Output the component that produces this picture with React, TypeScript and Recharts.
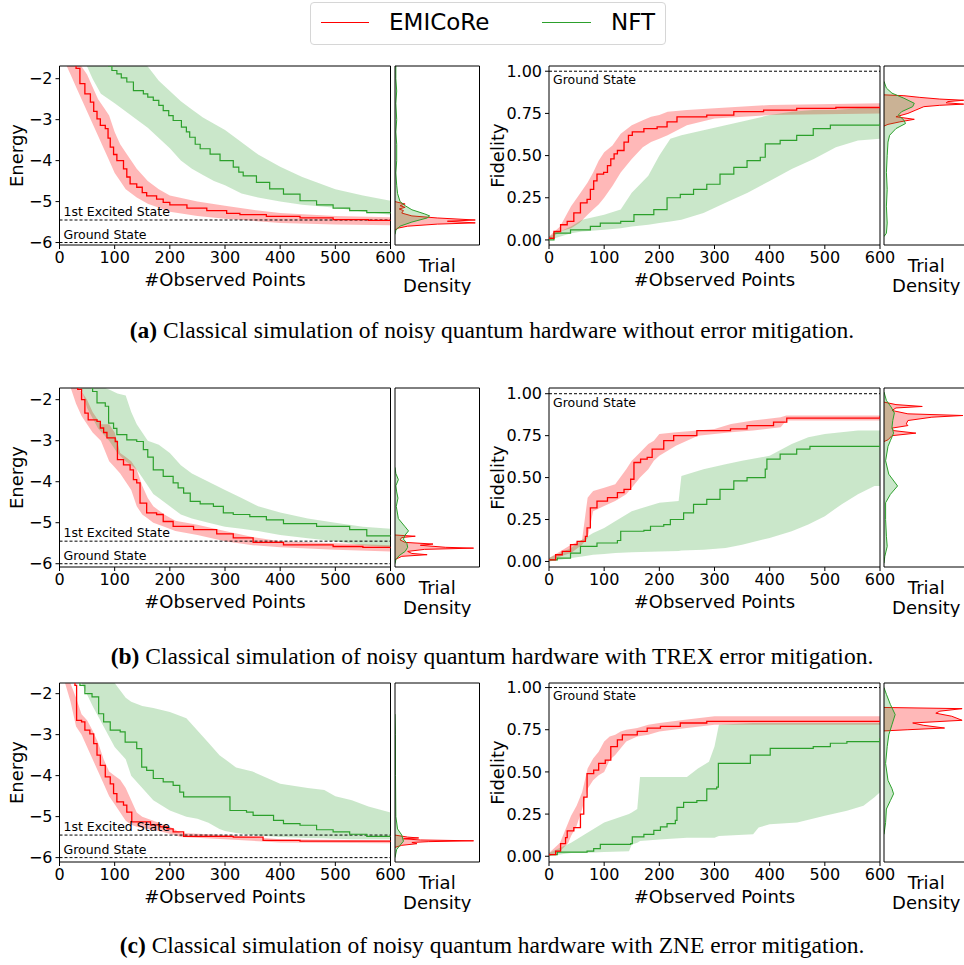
import React from 'react'
import { ComposedChart, Area, Line, XAxis, YAxis, ReferenceLine, ReferenceArea } from 'recharts'

// ---------- values ----------
const xTicks = [0, 100, 200, 300, 400, 500, 600]
const energyTicks = [-6, -5, -4, -3, -2]
const fidelityTicks = [0, 0.25, 0.5, 0.75, 1]
const excitedEnergy = -5.45
const groundEnergy = -6.0
const groundFidelity = 1.0

const captions = [
  ['(a)', ' Classical simulation of noisy quantum hardware without error mitigation.'],
  ['(b)', ' Classical simulation of noisy quantum hardware with TREX error mitigation.'],
  ['(c)', ' Classical simulation of noisy quantum hardware with ZNE error mitigation.'],
]

// (a) no mitigation — energy: [x, y] lines, [x, lo, hi] bands
const aEnergyRed = [[0,-1.0],[30,-1.75],[37,-2.12],[46,-2.37],[56,-2.57],[62,-2.8],[68,-2.98],[74,-3.14],[83,-3.22],[88,-3.45],[92,-3.67],[98,-3.85],[104,-4.0],[116,-4.2],[122,-4.4],[128,-4.57],[140,-4.65],[150,-4.78],[158,-4.86],[176,-4.94],[188,-5.02],[200,-5.08],[231,-5.16],[267,-5.22],[303,-5.29],[327,-5.32],[375,-5.36],[436,-5.40],[496,-5.44],[560,-5.46],[600,-5.47]]
const aEnergyRedBand = [[0,-1.3,-1.0],[20,-1.9,-1.5],[30,-2.2,-1.6],[40,-2.5,-1.7],[50,-2.8,-1.9],[60,-3.1,-2.2],[70,-3.4,-2.5],[80,-3.7,-2.7],[90,-4.0,-2.9],[100,-4.3,-3.3],[110,-4.5,-3.6],[120,-4.7,-3.8],[140,-4.9,-4.2],[160,-5.05,-4.5],[180,-5.15,-4.7],[200,-5.25,-4.85],[250,-5.35,-5.0],[300,-5.42,-5.1],[350,-5.47,-5.2],[400,-5.52,-5.28],[500,-5.56,-5.35],[600,-5.58,-5.38]]
const aEnergyGreen = [[0,-1.0],[89,-1.69],[95,-1.8],[104,-1.88],[112,-1.98],[122,-2.08],[134,-2.29],[152,-2.37],[160,-2.45],[170,-2.53],[180,-2.65],[188,-2.78],[198,-2.9],[206,-3.02],[221,-3.18],[230,-3.3],[236,-3.43],[246,-3.6],[255,-3.71],[273,-3.84],[291,-4.0],[315,-4.16],[325,-4.28],[333,-4.37],[357,-4.53],[381,-4.69],[406,-4.82],[436,-4.98],[466,-5.08],[496,-5.16],[526,-5.22],[557,-5.27],[600,-5.29]]
const aEnergyGreenBand = [[0,-1.0,-0.5],[50,-1.7,-1.0],[60,-2.0,-1.2],[75,-2.37,-1.3],[100,-2.6,-1.4],[130,-2.9,-1.5],[160,-3.2,-1.7],[180,-3.45,-2.05],[200,-3.7,-2.3],[220,-4.0,-2.55],[240,-4.2,-2.75],[260,-4.35,-2.95],[280,-4.5,-3.1],[300,-4.6,-3.25],[330,-4.8,-3.55],[360,-4.9,-3.85],[400,-5.0,-4.15],[440,-5.08,-4.4],[500,-5.15,-4.7],[550,-5.25,-4.85],[600,-5.32,-4.98]]

// (a) fidelity
const aFidRed = [[0,0.01],[9,0.05],[21,0.09],[33,0.11],[45,0.16],[57,0.22],[69,0.24],[75,0.30],[81,0.35],[87,0.39],[99,0.40],[106,0.44],[112,0.48],[118,0.51],[124,0.53],[136,0.58],[144,0.62],[151,0.64],[172,0.66],[196,0.67],[214,0.70],[232,0.73],[286,0.74],[335,0.76],[389,0.77],[449,0.78],[520,0.785],[600,0.785]]
const aFidRedBand = [[0,0.0,0.02],[20,0.05,0.08],[40,0.07,0.2],[55,0.1,0.27],[70,0.15,0.34],[80,0.18,0.4],[90,0.21,0.47],[100,0.25,0.52],[115,0.32,0.56],[130,0.4,0.63],[150,0.48,0.68],[170,0.55,0.71],[185,0.58,0.73],[200,0.6,0.74],[215,0.62,0.76],[250,0.68,0.77],[300,0.72,0.78],[400,0.74,0.80],[600,0.75,0.81]]
const aFidGreen = [[0,0.0],[9,0.04],[39,0.06],[75,0.08],[93,0.10],[130,0.11],[154,0.15],[190,0.18],[214,0.25],[238,0.27],[262,0.30],[286,0.33],[310,0.39],[335,0.43],[359,0.47],[383,0.49],[392,0.57],[419,0.59],[449,0.62],[479,0.66],[510,0.68],[600,0.69]]
const aFidGreenBand = [[0,0.0,0.02],[40,0.04,0.08],[60,0.05,0.12],[100,0.06,0.15],[130,0.07,0.18],[150,0.08,0.28],[180,0.09,0.38],[200,0.10,0.50],[220,0.11,0.60],[240,0.12,0.62],[280,0.16,0.65],[320,0.22,0.68],[360,0.28,0.71],[400,0.35,0.74],[440,0.42,0.76],[480,0.48,0.77],[520,0.55,0.77],[560,0.59,0.78],[600,0.60,0.78]]

// (a) trial densities: [value, density]
const aEnergyDensRed = [[-5.0,0],[-5.03,0.06],[-5.06,0.12],[-5.1,0.06],[-5.14,0.12],[-5.18,0.05],[-5.22,0.1],[-5.28,0.08],[-5.35,0.2],[-5.4,0.5],[-5.45,0.95],[-5.48,0.62],[-5.52,0.95],[-5.55,0.5],[-5.6,0.15],[-5.65,0.03],[-5.7,0]]
const aEnergyDensGreen = [[-1.69,0.01],[-2.0,0.01],[-2.3,0.02],[-2.6,0.01],[-3.0,0.02],[-3.3,0.01],[-3.6,0.02],[-4.0,0.02],[-4.3,0.01],[-4.6,0.02],[-4.8,0.03],[-5.0,0.06],[-5.1,0.12],[-5.2,0.2],[-5.3,0.35],[-5.35,0.41],[-5.4,0.38],[-5.5,0.2],[-5.6,0.06],[-5.7,0.01],[-5.8,0]]
const aFidDensRed = [[0.86,0],[0.855,0.25],[0.845,0.45],[0.835,0.7],[0.828,1.0],[0.82,0.8],[0.813,0.78],[0.805,1.0],[0.798,0.7],[0.79,0.5],[0.77,0.4],[0.75,0.3],[0.73,0.15],[0.715,0.38],[0.70,0.2],[0.685,0.05],[0.675,0]]
const aFidDensGreen = [[0.94,0],[0.9,0.03],[0.87,0.1],[0.84,0.25],[0.81,0.38],[0.79,0.36],[0.76,0.22],[0.74,0.18],[0.71,0.25],[0.69,0.27],[0.66,0.15],[0.62,0.07],[0.58,0.05],[0.5,0.04],[0.4,0.03],[0.3,0.04],[0.2,0.03],[0.1,0.04],[0.04,0.03],[0.02,0]]

// (b) TREX — energy
const bEnergyRed = [[0,-1.0],[33,-1.75],[40,-2.0],[46,-2.33],[52,-2.49],[68,-2.53],[74,-2.69],[80,-2.8],[86,-2.93],[101,-3.02],[105,-3.46],[116,-3.59],[128,-3.71],[134,-3.95],[140,-4.03],[146,-4.52],[158,-4.76],[176,-4.80],[188,-4.97],[206,-5.09],[243,-5.17],[285,-5.27],[315,-5.37],[351,-5.48],[406,-5.54],[496,-5.58],[550,-5.6],[600,-5.62]]
const bEnergyRedBand = [[0,-1.3,-1.0],[20,-1.7,-1.6],[30,-2.1,-1.7],[40,-2.4,-1.8],[50,-2.6,-2.0],[60,-2.8,-2.3],[75,-3.0,-2.6],[90,-3.5,-2.6],[100,-3.65,-2.8],[110,-3.8,-3.3],[120,-4.0,-3.4],[130,-4.2,-3.5],[140,-4.6,-3.7],[150,-4.8,-4.1],[160,-4.9,-4.4],[170,-5.0,-4.6],[190,-5.1,-4.8],[210,-5.2,-4.95],[250,-5.3,-5.05],[300,-5.45,-5.2],[350,-5.55,-5.35],[400,-5.6,-5.45],[500,-5.66,-5.5],[600,-5.7,-5.55]]
const bEnergyGreen = [[0,-1.0],[60,-1.8],[68,-2.08],[83,-2.16],[89,-2.57],[98,-2.7],[104,-2.85],[122,-2.98],[140,-3.02],[152,-3.22],[160,-3.4],[170,-3.71],[188,-3.87],[206,-4.03],[215,-4.15],[225,-4.28],[237,-4.48],[255,-4.54],[279,-4.60],[297,-4.76],[315,-4.80],[345,-4.85],[375,-4.93],[406,-5.02],[466,-5.09],[526,-5.17],[557,-5.32],[600,-5.33]]
const bEnergyGreenBand = [[0,-1.3,-1.0],[40,-1.75,-1.2],[50,-2.2,-1.3],[60,-2.45,-1.4],[70,-2.7,-1.5],[80,-2.85,-1.7],[90,-3.0,-1.75],[105,-3.3,-1.85],[120,-3.5,-1.9],[130,-3.6,-2.3],[140,-3.7,-2.6],[150,-3.9,-2.8],[160,-4.1,-3.0],[170,-4.3,-3.05],[180,-4.4,-3.1],[200,-4.6,-3.3],[220,-4.8,-3.6],[240,-4.9,-3.8],[270,-5.0,-4.0],[300,-5.1,-4.2],[330,-5.15,-4.4],[360,-5.2,-4.6],[400,-5.3,-4.75],[450,-5.38,-4.9],[500,-5.45,-5.0],[550,-5.55,-5.1],[600,-5.6,-5.15]]

// (b) fidelity
const bFidRed = [[0,0.01],[12,0.04],[24,0.06],[39,0.10],[51,0.12],[66,0.15],[69,0.20],[75,0.32],[87,0.36],[106,0.38],[124,0.41],[136,0.43],[148,0.49],[154,0.59],[166,0.61],[178,0.62],[187,0.67],[208,0.72],[226,0.75],[268,0.78],[329,0.79],[359,0.81],[407,0.83],[431,0.855],[600,0.865]]
const bFidRedBand = [[0,0.0,0.02],[20,0.03,0.06],[40,0.05,0.1],[60,0.1,0.13],[70,0.14,0.38],[75,0.22,0.40],[80,0.30,0.42],[100,0.33,0.44],[120,0.36,0.46],[140,0.40,0.55],[150,0.44,0.60],[165,0.50,0.65],[180,0.55,0.70],[190,0.60,0.72],[200,0.63,0.76],[230,0.69,0.77],[270,0.75,0.78],[300,0.76,0.79],[330,0.77,0.82],[370,0.78,0.84],[420,0.80,0.86],[430,0.84,0.87],[600,0.84,0.87]]
const bFidGreen = [[0,0.01],[15,0.02],[39,0.05],[57,0.09],[87,0.11],[124,0.125],[130,0.18],[172,0.185],[184,0.21],[208,0.22],[220,0.25],[244,0.29],[262,0.34],[286,0.37],[310,0.43],[335,0.48],[359,0.50],[392,0.55],[395,0.61],[419,0.64],[449,0.67],[473,0.686],[600,0.686]]
const bFidGreenBand = [[0,0.0,0.02],[40,0.02,0.08],[60,0.03,0.13],[80,0.04,0.17],[100,0.045,0.2],[120,0.05,0.24],[150,0.055,0.3],[200,0.06,0.35],[235,0.063,0.36],[240,0.065,0.51],[280,0.07,0.55],[320,0.08,0.58],[350,0.10,0.60],[400,0.14,0.63],[440,0.18,0.70],[470,0.22,0.74],[500,0.27,0.76],[530,0.34,0.77],[560,0.40,0.78],[590,0.45,0.78],[600,0.45,0.78]]

// (b) trial densities
const bEnergyDensRed = [[-5.3,0],[-5.33,0.24],[-5.36,0.08],[-5.42,0.06],[-5.48,0.12],[-5.52,0.45],[-5.55,0.3],[-5.6,0.6],[-5.62,0.93],[-5.65,0.35],[-5.7,0.15],[-5.75,0.2],[-5.78,0.38],[-5.82,0.08],[-5.9,0]]
const bEnergyDensGreen = [[-3.65,0],[-3.8,0.01],[-3.95,0.04],[-4.1,0.01],[-4.25,0.02],[-4.4,0.035],[-4.6,0.015],[-4.9,0.04],[-5.1,0.12],[-5.2,0.16],[-5.3,0.12],[-5.4,0.1],[-5.5,0.14],[-5.6,0.15],[-5.7,0.12],[-5.8,0.05],[-5.9,0.01],[-6.0,0]]
const bFidDensRed = [[0.95,0],[0.935,0.15],[0.924,0.48],[0.915,0.15],[0.9,0.1],[0.88,0.3],[0.87,0.99],[0.86,0.6],[0.84,0.3],[0.82,0.28],[0.81,0.3],[0.795,0.1],[0.78,0.12],[0.765,0.4],[0.75,0.1],[0.725,0.05],[0.715,0]]
const bFidDensGreen = [[1.01,0],[0.96,0.03],[0.92,0.09],[0.885,0.13],[0.84,0.11],[0.8,0.1],[0.765,0.12],[0.72,0.08],[0.686,0.05],[0.6,0.02],[0.52,0.06],[0.45,0.17],[0.4,0.08],[0.35,0.02],[0.25,0.02],[0.15,0.03],[0.09,0.04],[0.03,0.01],[-0.01,0]]

// (c) ZNE — energy
const cEnergyRed = [[0,-1.0],[28,-1.8],[31,-2.65],[40,-2.69],[46,-2.89],[55,-2.98],[62,-3.22],[68,-3.50],[74,-3.75],[83,-4.03],[92,-4.20],[98,-4.44],[104,-4.64],[116,-4.72],[122,-4.89],[131,-5.13],[152,-5.13],[165,-5.2],[182,-5.25],[195,-5.3],[206,-5.37],[225,-5.48],[315,-5.50],[369,-5.58],[436,-5.60],[600,-5.62]]
const cEnergyRedBand = [[0,-1.3,-1.0],[10,-1.74,-1.6],[20,-2.2,-1.75],[30,-2.8,-2.1],[40,-3.0,-2.5],[50,-3.3,-2.65],[60,-3.6,-2.9],[70,-3.9,-3.2],[80,-4.2,-3.6],[90,-4.5,-3.9],[100,-4.7,-4.0],[110,-4.9,-4.1],[120,-5.1,-4.3],[130,-5.2,-4.6],[140,-5.25,-4.9],[150,-5.28,-5.0],[180,-5.35,-5.15],[200,-5.42,-5.25],[220,-5.5,-5.4],[300,-5.55,-5.45],[400,-5.63,-5.55],[600,-5.65,-5.58]]
const cEnergyGreen = [[0,-1.0],[37,-1.8],[46,-2.0],[59,-2.08],[71,-2.49],[80,-2.69],[92,-2.89],[110,-2.93],[119,-3.18],[140,-3.34],[149,-3.79],[158,-3.87],[170,-4.07],[188,-4.15],[206,-4.24],[218,-4.4],[225,-4.52],[303,-4.52],[309,-4.85],[339,-4.89],[351,-4.97],[388,-5.09],[406,-5.17],[436,-5.21],[466,-5.32],[496,-5.37],[526,-5.43],[557,-5.48],[600,-5.50]]
const cEnergyGreenBand = [[0,-1.3,-1.0],[40,-1.74,-1.2],[60,-2.3,-1.3],[80,-2.8,-1.5],[100,-3.3,-1.74],[120,-3.6,-2.1],[130,-4.0,-2.2],[150,-4.3,-2.3],[170,-4.6,-2.35],[200,-4.85,-2.45],[230,-5.0,-2.6],[250,-5.05,-2.9],[270,-5.15,-3.2],[290,-5.3,-3.5],[300,-5.35,-3.6],[320,-5.4,-3.8],[350,-5.45,-3.9],[400,-5.5,-4.2],[450,-5.52,-4.3],[480,-5.53,-4.35],[500,-5.54,-4.5],[530,-5.55,-4.6],[560,-5.55,-4.75],[600,-5.55,-4.9]]

// (c) fidelity
const cFidRed = [[0,0.01],[12,0.03],[21,0.075],[30,0.11],[33,0.15],[45,0.17],[57,0.25],[63,0.35],[69,0.49],[81,0.51],[90,0.55],[102,0.57],[112,0.65],[124,0.69],[133,0.72],[160,0.74],[178,0.76],[202,0.77],[238,0.79],[286,0.80],[600,0.80]]
const cFidRedBand = [[0,0.0,0.02],[20,0.03,0.08],[35,0.08,0.2],[40,0.12,0.24],[50,0.18,0.3],[60,0.28,0.38],[70,0.4,0.52],[80,0.45,0.58],[90,0.48,0.62],[100,0.5,0.68],[110,0.57,0.71],[120,0.6,0.72],[130,0.64,0.74],[140,0.68,0.75],[160,0.71,0.76],[180,0.72,0.78],[200,0.74,0.79],[250,0.76,0.81],[300,0.78,0.83],[600,0.78,0.83]]
const cFidGreen = [[0,0.01],[15,0.025],[69,0.03],[81,0.045],[93,0.07],[148,0.075],[151,0.115],[172,0.13],[190,0.154],[202,0.174],[214,0.194],[229,0.213],[232,0.29],[244,0.32],[268,0.33],[286,0.40],[304,0.41],[307,0.55],[359,0.55],[365,0.60],[401,0.64],[479,0.65],[510,0.67],[540,0.68],[600,0.70]]
const cFidGreenBand = [[0,0.0,0.02],[20,0.01,0.05],[40,0.02,0.08],[60,0.02,0.12],[100,0.025,0.2],[145,0.03,0.25],[150,0.07,0.26],[160,0.08,0.28],[165,0.09,0.47],[200,0.1,0.47],[250,0.11,0.47],[270,0.11,0.52],[290,0.11,0.56],[300,0.11,0.65],[308,0.12,0.78],[370,0.13,0.79],[380,0.17,0.79],[400,0.19,0.79],[450,0.2,0.79],[500,0.24,0.79],[540,0.27,0.79],[570,0.3,0.79],[590,0.35,0.79],[600,0.38,0.79]]

// (c) trial densities
const cEnergyDensRed = [[-5.45,0],[-5.5,0.15],[-5.52,0.28],[-5.54,0.1],[-5.57,0.3],[-5.59,0.93],[-5.61,0.4],[-5.63,0.2],[-5.66,0.26],[-5.7,0.08],[-5.75,0]]
const cEnergyDensGreen = [[-2.5,0],[-3.0,0.005],[-4.0,0.006],[-5.0,0.01],[-5.3,0.03],[-5.45,0.08],[-5.6,0.1],[-5.7,0.06],[-5.8,0.02],[-6.0,0]]
const cFidDensRed = [[0.882,0],[0.875,0.98],[0.86,0.7],[0.848,0.65],[0.83,0.85],[0.806,0.98],[0.79,0.36],[0.776,0.5],[0.76,0.76],[0.75,0.3],[0.743,0]]
const cFidDensGreen = [[1.0,0],[0.96,0.03],[0.9,0.08],[0.84,0.14],[0.78,0.1],[0.72,0.06],[0.65,0.04],[0.55,0.02],[0.45,0.05],[0.4,0.1],[0.37,0.12],[0.33,0.08],[0.28,0.03],[0.2,0.02],[0.13,0]]

// ---------- look ----------
const RED = '#ff0000'
const GREEN = '#2ca02c'
const FONT = '"DejaVu Sans", sans-serif'
const PW = 331
const PH = 179
const DW = 84.5

const minus = (v: number) => (v < 0 ? '\u2212' + Math.abs(v) : String(v))

const lineRows = (rows: number[][]) => rows.map(([x, y]) => ({ x, y }))
const bandRows = (rows: number[][]) => rows.map(([x, lo, hi]) => ({ x, r: [lo, hi] }))
const densRows = (rows: number[][]) => rows.map(([y, d]) => ({ y, d }))

const yLabel = (text: string, cx: number) => (p: any) => {
  const vb = p.viewBox
  const cy = vb.y + vb.height / 2
  return (
    <text x={cx} y={cy} transform={`rotate(-90 ${cx} ${cy})`} textAnchor="middle" dominantBaseline="central" fontSize={18} fill="#000">
      {text}
    </text>
  )
}

const xLabel = (p: any) => {
  const vb = p.viewBox
  return (
    <text x={vb.x + vb.width / 2} y={vb.y + 41} textAnchor="middle" fontSize={18} fill="#000">
      #Observed Points
    </text>
  )
}

const trialLabel = (p: any) => {
  const vb = p.viewBox
  const cx = vb.x + vb.width / 2
  return (
    <text x={cx} y={vb.y} textAnchor="middle" fontSize={18} fill="#000">
      <tspan x={cx} dy={27}>Trial</tspan>
      <tspan x={cx} dy={19.5}>Density</tspan>
    </text>
  )
}

const Panel = ({ left, top, yW, labelX, domain, ticks, fmt, ylabel, refs, red, redBand, green, greenBand }: any) => (
  <div style={{ position: 'absolute', left: left - yW, top: top - 10 }}>
    <ComposedChart width={yW + PW + 18} height={10 + PH + 48} margin={{ top: 10, right: 18, left: 0, bottom: 0 }}>
      <XAxis type="number" dataKey="x" domain={[0, 600]} ticks={xTicks} allowDataOverflow height={48}
        axisLine={false} tickSize={4} tickMargin={3} tickLine={{ stroke: '#000' }}
        tick={{ fill: '#000', fontSize: 16 }} label={xLabel} />
      <YAxis type="number" domain={domain} ticks={ticks} allowDataOverflow width={yW} tickFormatter={fmt}
        axisLine={false} tickSize={4} tickMargin={3} tickLine={{ stroke: '#000' }}
        tick={{ fill: '#000', fontSize: 16 }} label={yLabel(ylabel, labelX)} />
      <Area data={bandRows(redBand)} dataKey="r" type="linear" stroke="none" fill={RED} fillOpacity={0.28} isAnimationActive={false} />
      <Area data={bandRows(greenBand)} dataKey="r" type="linear" stroke="none" fill={GREEN} fillOpacity={0.25} isAnimationActive={false} />
      {refs.map(([y, text, pos]: any) => (
        <ReferenceLine key={text + y} y={y} stroke="#000" strokeWidth={1} strokeDasharray="3 2"
          label={{ value: text, position: pos, offset: 4, fontSize: 12.5, fill: '#000' }} />
      ))}
      <Line data={lineRows(green)} dataKey="y" type="stepAfter" stroke={GREEN} strokeWidth={1.2} dot={false} isAnimationActive={false} />
      <Line data={lineRows(red)} dataKey="y" type="stepAfter" stroke={RED} strokeWidth={1.3} dot={false} isAnimationActive={false} />
      <ReferenceArea x1={0} x2={600} y1={domain[0]} y2={domain[1]} fill="none" stroke="#000" strokeWidth={1} />
    </ComposedChart>
  </div>
)

const Density = ({ left, top, domain, xMax, red, green }: any) => (
  <div style={{ position: 'absolute', left: left - 1, top: top - 1 }}>
    <ComposedChart layout="vertical" width={DW + 2} height={PH + 1 + 50} margin={{ top: 1, right: 1, left: 1, bottom: 0 }}>
      <XAxis type="number" domain={[0, xMax]} allowDataOverflow height={50} tick={false} axisLine={false} tickLine={false} label={trialLabel} />
      <YAxis type="number" dataKey="y" domain={domain} allowDataOverflow reversed hide />
      <Area data={densRows(red)} dataKey="d" type="linear" stroke={RED} strokeWidth={1} fill={RED} fillOpacity={0.28} isAnimationActive={false} />
      <Area data={densRows(green)} dataKey="d" type="linear" stroke={GREEN} strokeWidth={1} fill={GREEN} fillOpacity={0.25} isAnimationActive={false} />
      <ReferenceArea x1={0} x2={xMax} y1={domain[0]} y2={domain[1]} fill="none" stroke="#000" strokeWidth={1} />
    </ComposedChart>
  </div>
)

const rows = [
  { top: 65.5, capTop: 317, eDom: [-6.06, -1.69], fDom: [-0.03, 1.031],
    e: [aEnergyRed, aEnergyRedBand, aEnergyGreen, aEnergyGreenBand], f: [aFidRed, aFidRedBand, aFidGreen, aFidGreenBand],
    d: [aEnergyDensRed, aEnergyDensGreen, aFidDensRed, aFidDensGreen] },
  { top: 388.3, capTop: 643, eDom: [-6.08, -1.715], fDom: [-0.033, 1.034],
    e: [bEnergyRed, bEnergyRedBand, bEnergyGreen, bEnergyGreenBand], f: [bFidRed, bFidRedBand, bFidGreen, bFidGreenBand],
    d: [bEnergyDensRed, bEnergyDensGreen, bFidDensRed, bFidDensGreen] },
  { top: 682.7, capTop: 932, eDom: [-6.107, -1.74], fDom: [-0.034, 1.027],
    e: [cEnergyRed, cEnergyRedBand, cEnergyGreen, cEnergyGreenBand], f: [cFidRed, cFidRedBand, cFidGreen, cFidGreenBand],
    d: [cEnergyDensRed, cEnergyDensGreen, cFidDensRed, cFidDensGreen] },
]

const energyRefs = [[excitedEnergy, '1st Excited State', 'insideBottomLeft'], [groundEnergy, 'Ground State', 'insideBottomLeft']]
const fidelityRefs = [[groundFidelity, 'Ground State', 'insideTopLeft']]

const LegendBox = () => (
  <div style={{ position: 'absolute', left: 310, top: 2, width: 354, height: 41, border: '1px solid #d6d6d6', borderRadius: 4, fontFamily: FONT, fontSize: 23 }}>
    <div style={{ position: 'absolute', left: 10, top: 19, width: 48, height: 0, borderTop: `1.5px solid ${RED}` }} />
    <div style={{ position: 'absolute', left: 78, top: 5, lineHeight: '28px' }}>EMICoRe</div>
    <div style={{ position: 'absolute', left: 231, top: 19, width: 49, height: 0, borderTop: `1.5px solid ${GREEN}` }} />
    <div style={{ position: 'absolute', left: 300, top: 5, lineHeight: '28px' }}>NFT</div>
  </div>
)

export default function App() {
  return (
    <div style={{ position: 'absolute', left: 0, top: 0, width: 964, height: 965, overflow: 'hidden', background: '#fff', fontFamily: FONT }}>
      <LegendBox />
      {rows.map((r, i) => (
        <React.Fragment key={i}>
          <Panel left={59.5} top={r.top} yW={59.5} labelX={16.5} domain={r.eDom} ticks={energyTicks} fmt={minus}
            ylabel="Energy" refs={energyRefs} red={r.e[0]} redBand={r.e[1]} green={r.e[2]} greenBand={r.e[3]} />
          <Density left={394.5} top={r.top} domain={r.eDom} xMax={1} red={r.d[0]} green={r.d[1]} />
          <Panel left={548.5} top={r.top} yW={72} labelX={20.5} domain={r.fDom} ticks={fidelityTicks} fmt={(v: number) => v.toFixed(2)}
            ylabel="Fidelity" refs={fidelityRefs} red={r.f[0]} redBand={r.f[1]} green={r.f[2]} greenBand={r.f[3]} />
          <Density left={884} top={r.top} domain={r.fDom} xMax={1.06} red={r.d[2]} green={r.d[3]} />
          <div style={{ position: 'absolute', left: 0, top: r.capTop, width: 984, textAlign: 'center', fontFamily: '"Liberation Serif", serif', fontSize: 23.5, lineHeight: '26px', whiteSpace: 'nowrap' }}>
            <b>{captions[i][0]}</b>{captions[i][1]}
          </div>
        </React.Fragment>
      ))}
    </div>
  )
}
